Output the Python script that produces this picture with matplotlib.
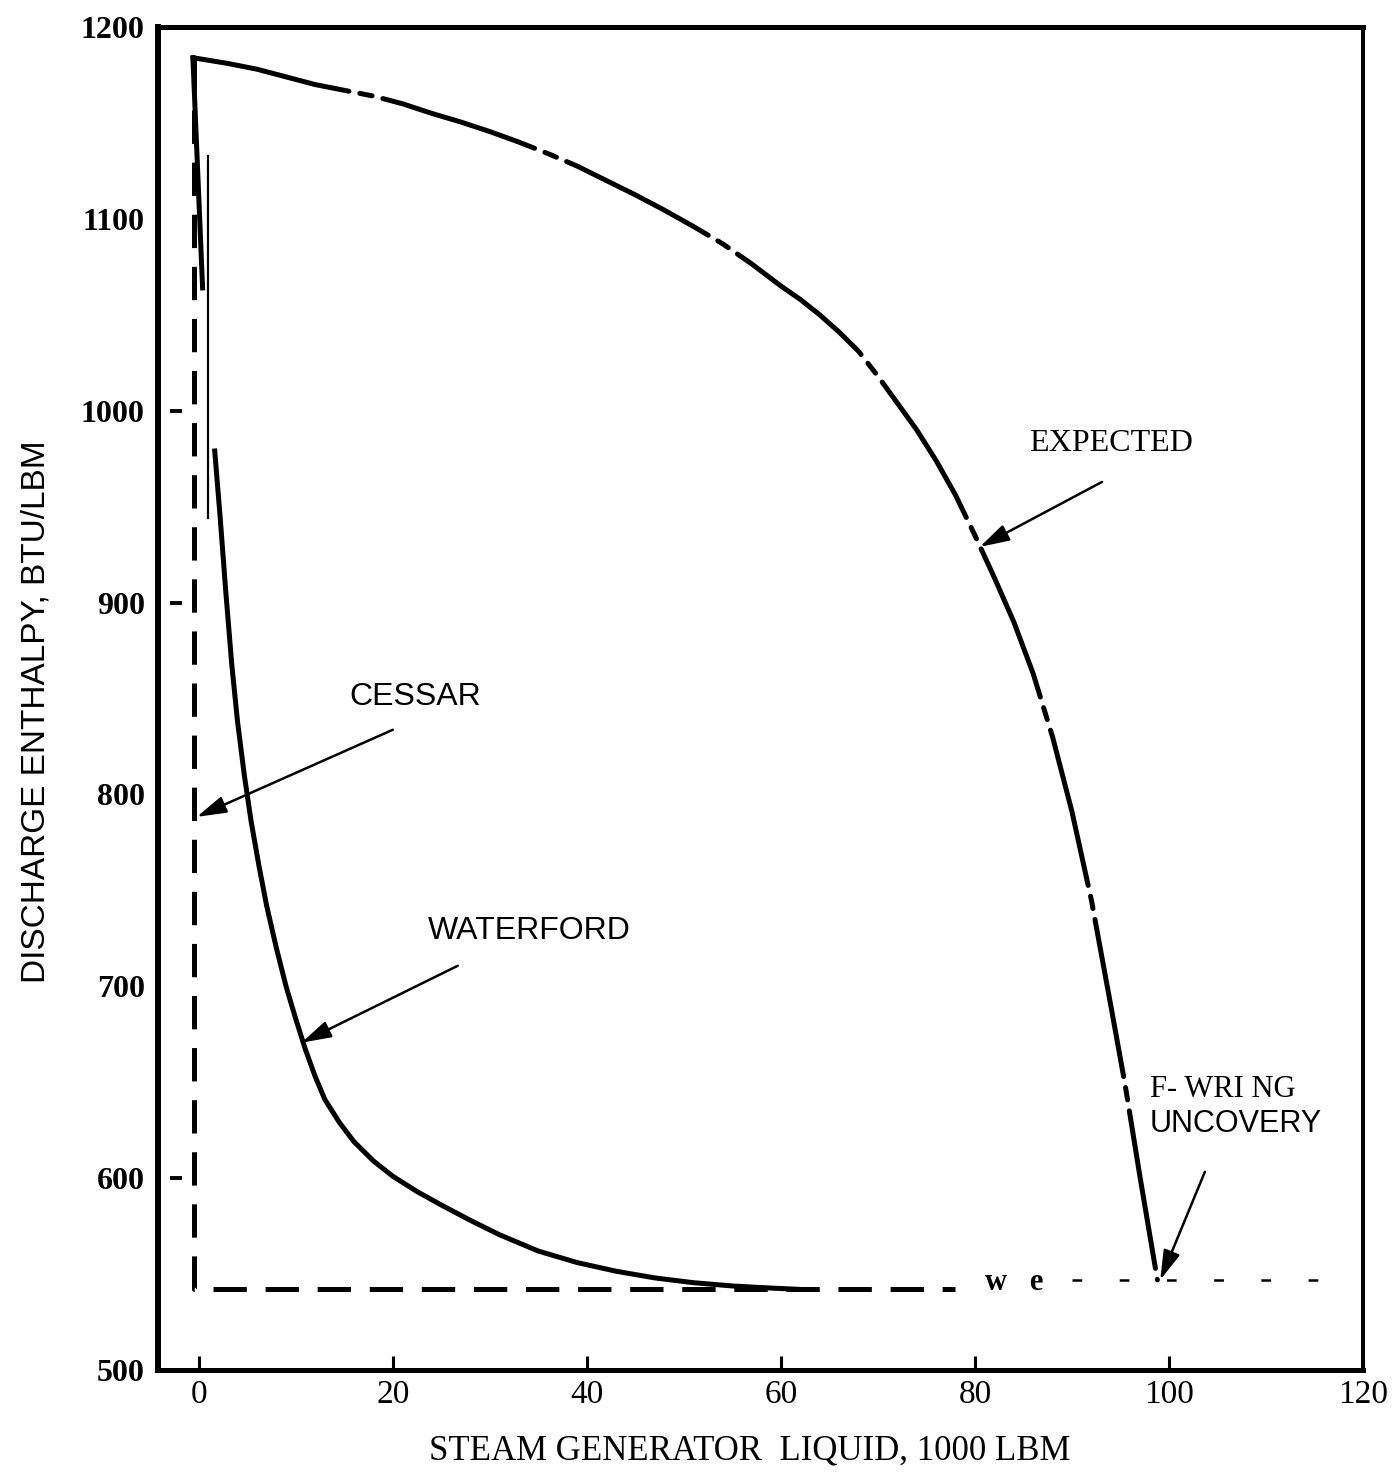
import matplotlib
matplotlib.use("Agg")
import matplotlib.pyplot as plt
from matplotlib import font_manager as fm

plt.rcParams['lines.scale_dashes'] = False

_names = {f.name for f in fm.fontManager.ttflist}
def pick(*cands):
    for c in cands:
        if c in _names:
            return c
    return 'DejaVu Sans'

SERIF = pick('Liberation Serif', 'DejaVu Serif')
SANS = pick('Liberation Sans Narrow', 'Liberation Sans', 'DejaVu Sans')
NARROW = SANS == 'Liberation Sans Narrow'

# ---------------- data ----------------
expected_x = [-0.6, 3, 6, 9, 12, 15, 18, 21, 24, 27, 30, 33, 36, 39, 42, 45, 48,
              51, 54, 57, 60, 62, 64, 66, 68, 70, 72, 74, 76, 78, 80, 82, 84,
              86, 88, 90, 92, 94, 95.5, 97, 98.8]
expected_y = [1184, 1181, 1178, 1174, 1170, 1167, 1164, 1160, 1155, 1150.5, 1145.5,
              1140, 1134, 1127.5, 1120, 1112.5, 1104.5, 1096, 1087, 1076.5, 1065,
              1058, 1050, 1041, 1031, 1018, 1004, 990, 974, 956, 935, 913, 890,
              863, 830, 791, 745, 690, 648, 601, 547]

expected_tail_x = [90.0, 117.3]
expected_tail_y = [547, 547]

waterford_drop_x = [-0.6, 0.4]
waterford_drop_y = [1184, 1064]
waterford_trace_x = [0.93, 0.93]
waterford_trace_y = [1133, 944]
waterford_x = [1.65, 2.2, 2.8, 3.4, 4.0, 4.7, 5.4, 6.2, 7.0, 8.0, 9.0, 10.0, 11.0,
               12.0, 13.0, 14.5, 16.0, 18.0, 20.0, 22.5, 25.0, 28.0, 31.0, 35.0,
               39.0, 43.0, 47.0, 51.0, 55.0, 59.0, 62.0]
waterford_y = [979, 945, 905, 868, 838, 810, 786, 763, 742, 720, 700, 683, 667,
               653, 641, 629, 619, 609, 601, 593, 586, 578, 570.5, 562,
               556, 551.5, 548, 545.5, 543.8, 542.7, 542]

cessar_x = [-0.5, -0.5, 77.9]
cessar_y = [1184, 542, 542]

x_ticks = [0, 20, 40, 60, 80, 100, 120]
y_ticks = [500, 600, 700, 800, 900, 1000, 1100, 1200]
y_tick_marks = [600, 900, 1000]

# ---------------- figure ----------------
fig = plt.figure(figsize=(13.93, 14.81), dpi=100)
ax = fig.add_axes([0.1134, 0.07495, 0.8651, 0.90682])
ax.set_xlim(-4.2, 120)
ax.set_ylim(500, 1200)

LW = 3.6
# CESSAR (dashed)
ax.plot(cessar_x, cessar_y, color='black', lw=LW, dashes=(24, 13.5),
        solid_joinstyle='miter')
# EXPECTED (long dash - short dash)
ax.plot(expected_x, expected_y, color='black', lw=LW, dashes=(115, 8, 9, 8),
        dash_capstyle='round', solid_joinstyle='round')
ax.plot(expected_tail_x, expected_tail_y, color='black', lw=1.8, dashes=(7, 27))
# WATERFORD (solid)
ax.plot(waterford_drop_x, waterford_drop_y, color='black', lw=LW)
ax.plot(waterford_trace_x, waterford_trace_y, color='black', lw=1.6)
ax.plot(waterford_x, waterford_y, color='black', lw=LW, solid_joinstyle='round')

# axes styling
for side, w in [('left', 4.3), ('bottom', 3.6), ('top', 3.6), ('right', 2.9)]:
    ax.spines[side].set_linewidth(w)
ax.set_xticks(x_ticks)
ax.set_yticks(y_ticks)
ax.tick_params(axis='x', direction='in', length=10, width=2.2, pad=7,
               labelsize=24)
ax.tick_params(axis='y', length=0, pad=9.5, labelsize=23)
for lab in ax.get_xticklabels():
    lab.set_fontfamily(SERIF)
for lab in ax.get_yticklabels():
    lab.set_fontfamily(SERIF)
    lab.set_fontweight('bold')
ax.hlines(y_tick_marks, 0.01, 0.02, transform=ax.get_yaxis_transform(),
          color='black', lw=2.8)

ax.set_xlabel('STEAM GENERATOR  LIQUID, 1000 LBM', fontfamily=SERIF, fontsize=25)
ax.xaxis.set_label_coords(0.491, -0.048)
ax.set_ylabel('DISCHARGE ENTHALPY, BTU/LBM', fontfamily=SANS,
              fontsize=29 if NARROW else 24)
ax.yaxis.set_label_coords(-0.088, 0.49)

# annotations
ann = 28 if NARROW else 23
ax.text(94.0, 983, 'EXPECTED', fontfamily=SERIF, fontsize=23,
        ha='center', va='center')
ax.text(22.3, 851, 'CESSAR', fontfamily=SANS, fontsize=ann,
        ha='center', va='center')
ax.text(34.1, 729, 'WATERFORD', fontfamily=SANS, fontsize=ann,
        ha='center', va='center')
ax.text(98.0, 646, 'F- WRI NG', fontfamily=SERIF, fontsize=22,
        ha='left', va='center')
ax.text(98.0, 628, 'UNCOVERY', fontfamily=SANS, fontsize=ann - 1,
        ha='left', va='center')
ax.text(84.0, 545.5, 'w   e', fontfamily=SERIF, fontsize=22, fontweight='bold',
        ha='center', va='center')

arrow = dict(arrowstyle='-|>,head_length=0.45,head_width=0.13',
             mutation_scale=40, lw=1.8, color='black', shrinkA=0, shrinkB=0)
ax.annotate('', xy=(-0.2, 788.3), xytext=(20.0, 833.7), arrowprops=arrow)
ax.annotate('', xy=(10.6, 670.6), xytext=(26.7, 710.7), arrowprops=arrow)
ax.annotate('', xy=(80.5, 929.0), xytext=(93.1, 962.9), arrowprops=arrow)
ax.annotate('', xy=(99.1, 547.0), xytext=(103.7, 603.3), arrowprops=arrow)

fig.savefig('out.png', dpi=100)
